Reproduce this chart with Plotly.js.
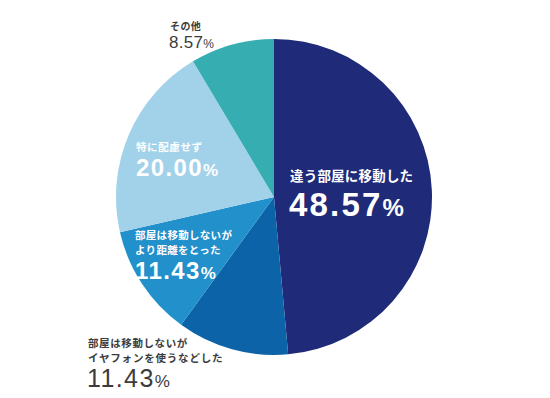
<!DOCTYPE html>
<html><head><meta charset="utf-8">
<script src="https://cdn.plot.ly/plotly-3.0.1.min.js"></script>
<style>html,body{margin:0;padding:0;background:#fff;}#c{width:550px;height:398px;}</style>
</head><body><div id="c"></div>
<script>
const categories = ["違う部屋に移動した", "部屋は移動しないがイヤフォンを使うなどした", "部屋は移動しないがより距離をとった", "特に配慮せず", "その他"];
const labelLines = [["違う部屋に移動した"], ["部屋は移動しないが", "イヤフォンを使うなどした"], ["部屋は移動しないが", "より距離をとった"], ["特に配慮せず"], ["その他"]];
const values = [48.57, 11.43, 11.43, 20.00, 8.57];
const valueLabels = ["48.57", "11.43", "11.43", "20.00", "8.57"];
const colors = ["#1f2a78", "#0c63a8", "#2190cb", "#a2d2ea", "#36adb1"];

const JP = '"Noto Sans CJK JP", "Noto Sans", sans-serif';
const NUM = '"Liberation Sans", Arial, sans-serif';

function sp(text, ls) { return '<span style="letter-spacing:' + ls + 'px">' + text + '</span>'; }
function pct(v, pctSize, ls) {
  return '<span style="letter-spacing:' + ls + 'px">' + v + '</span><span style="font-size:' + pctSize + 'px;letter-spacing:0px">%</span>';
}
function ann(px, py, text, size, color, family) {
  return {xref:'paper', yref:'paper', x:px/550, y:1-py/398, xanchor:'left', yanchor:'middle',
    text:text, showarrow:false, align:'left', borderpad:0, font:{size:size, color:color, family:family}};
}
const W = '#ffffff', G = '#3c3c3c';
const annotations = [
  ann(289, 175.5, '<b>' + sp(labelLines[0][0], 0.2) + '</b>', 13.5, W, JP),
  ann(288, 204, '<b>' + pct(valueLabels[0], 24, 2.2) + '</b>', 33, W, NUM),
  ann(87, 342, '<b>' + sp(labelLines[1][0], 0.6) + '</b>', 10.5, G, JP),
  ann(87, 357, '<b>' + sp(labelLines[1][1], 0.8) + '</b>', 10.5, G, JP),
  ann(86, 378, pct(valueLabels[1], 17, 1.4), 25, G, NUM),
  ann(134, 235, '<b>' + sp(labelLines[2][0], 0.3) + '</b>', 10.5, W, JP),
  ann(134, 249.5, '<b>' + sp(labelLines[2][1], 0.3) + '</b>', 10.5, W, JP),
  ann(134, 270, '<b>' + pct(valueLabels[2], 17, 1.4) + '</b>', 24, W, NUM),
  ann(135, 146.5, '<b>' + sp(labelLines[3][0], 0.6) + '</b>', 10.5, W, JP),
  ann(135, 167, '<b>' + pct(valueLabels[3], 17, 1.4) + '</b>', 24, W, NUM),
  ann(169, 25.5, '<b>' + sp(labelLines[4][0], 0.4) + '</b>', 10, G, JP),
  ann(168, 42, pct(valueLabels[4], 12, 0.3), 17, G, NUM)
];

const trace = {
  type:'pie', values: values, labels: categories, sort:false, direction:'clockwise', rotation:0,
  marker:{colors: colors, line:{width:0}}, textinfo:'none', hoverinfo:'none', showlegend:false,
  domain:{x:[116/550, 432/550], y:[1-355/398, 1-39/398]}
};
Plotly.newPlot('c', [trace], {
  width:550, height:398, margin:{l:0,r:0,t:0,b:0}, paper_bgcolor:'#fff', showlegend:false,
  annotations: annotations
}, {displayModeBar:false, staticPlot:true});
</script></body></html>
